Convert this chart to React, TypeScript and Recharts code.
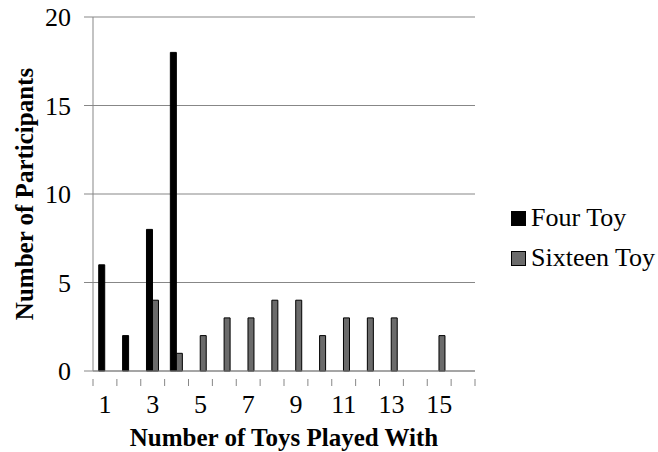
import React from "react";
import { BarChart, Bar, XAxis, YAxis, CartesianGrid, Legend } from "recharts";

const toysPlayed = [1, 2, 3, 4, 5, 6, 7, 8, 9, 10, 11, 12, 13, 14, 15, 16];
const fourToy = [6, 2, 8, 18, 0, 0, 0, 0, 0, 0, 0, 0, 0, 0, 0, 0];
const sixteenToy = [0, 0, 4, 1, 2, 3, 3, 4, 4, 2, 3, 3, 3, 0, 2, 0];
const yTicks = [0, 5, 10, 15, 20];

const data = toysPlayed.map((t, i) => ({
  toys: t,
  four: fourToy[i],
  sixteen: sixteenToy[i],
}));

const FONT = "Liberation Serif";
const AXIS_GRAY = "#878787";
const BAR_GRAY = "#6b6b6b";

// x ticks: marks sit on category boundaries, labels only on odd values
const XTick = (props: any) => {
  const { x, y, payload, index } = props;
  const half = payload.offset ?? 12;
  const last = index === toysPlayed.length - 1;
  return (
    <g>
      <line x1={x - half} x2={x - half} y1={y} y2={y + 7} stroke={AXIS_GRAY} />
      {last && (
        <line x1={x + half} x2={x + half} y1={y} y2={y + 7} stroke={AXIS_GRAY} />
      )}
      {payload.value % 2 === 1 && (
        <text
          x={x}
          y={y + 34}
          textAnchor="middle"
          fill="#000"
          fontFamily={FONT}
          fontSize={26}
        >
          {payload.value}
        </text>
      )}
    </g>
  );
};

const YTick = (props: any) => {
  const { x, y, payload } = props;
  return (
    <text
      x={x}
      y={y + 9}
      textAnchor="end"
      fill="#000"
      fontFamily={FONT}
      fontSize={26}
    >
      {payload.value}
    </text>
  );
};

const YTitle = (props: any) => {
  const { viewBox } = props;
  const cx = 33;
  const cy = viewBox.y + viewBox.height / 2;
  return (
    <text
      x={cx}
      y={cy}
      transform={`rotate(-90, ${cx}, ${cy})`}
      textAnchor="middle"
      fill="#000"
      fontFamily={FONT}
      fontSize={25}
      fontWeight="bold"
    >
      Number of Participants
    </text>
  );
};

const XTitle = (props: any) => {
  const { viewBox } = props;
  const cx = viewBox.x + viewBox.width / 2;
  return (
    <text
      x={cx}
      y={446}
      textAnchor="middle"
      fill="#000"
      fontFamily={FONT}
      fontSize={25}
      fontWeight="bold"
    >
      Number of Toys Played With
    </text>
  );
};

const legendItems = [
  { label: "Four Toy", color: "#000" },
  { label: "Sixteen Toy", color: BAR_GRAY },
];

const LegendBox = () => (
  <div style={{ fontFamily: FONT, fontSize: 26, color: "#000" }}>
    {legendItems.map((item) => (
      <div
        key={item.label}
        style={{ display: "flex", alignItems: "center", height: 40 }}
      >
        <span
          style={{
            display: "inline-block",
            width: 13,
            height: 13,
            background: item.color,
            border: "1px solid #000",
            marginRight: 5,
          }}
        />
        <span>{item.label}</span>
      </div>
    ))}
  </div>
);

export default function App() {
  return (
    <div
      style={{
        position: "absolute",
        left: 0,
        top: 0,
        background: "#fff",
        fontFamily: FONT,
      }}
    >
      <BarChart
        width={658}
        height={452}
        data={data}
        margin={{ top: 17, right: 183, left: 0, bottom: 0 }}
        barCategoryGap="24%"
        barGap={0}
      >
        <CartesianGrid vertical={false} stroke={AXIS_GRAY} />
        <XAxis
          dataKey="toys"
          height={81}
          interval={0}
          axisLine={{ stroke: AXIS_GRAY }}
          tickLine={false}
          tick={<XTick />}
          label={<XTitle />}
        />
        <YAxis
          width={93}
          domain={[0, 20]}
          ticks={yTicks}
          interval={0}
          axisLine={{ stroke: AXIS_GRAY }}
          tickLine={{ stroke: AXIS_GRAY }}
          tickSize={9}
          tickMargin={13}
          tick={<YTick />}
          label={<YTitle />}
        />
        <Legend
          layout="vertical"
          align="center"
          verticalAlign="middle"
          content={<LegendBox />}
          wrapperStyle={{ left: 511, top: 198, width: "auto" }}
        />
        <Bar
          dataKey="four"
          name="Four Toy"
          fill="#000"
          stroke="#000"
          strokeWidth={1}
          isAnimationActive={false}
        />
        <Bar
          dataKey="sixteen"
          name="Sixteen Toy"
          fill={BAR_GRAY}
          stroke="#000"
          strokeWidth={1}
          isAnimationActive={false}
        />
      </BarChart>
    </div>
  );
}
